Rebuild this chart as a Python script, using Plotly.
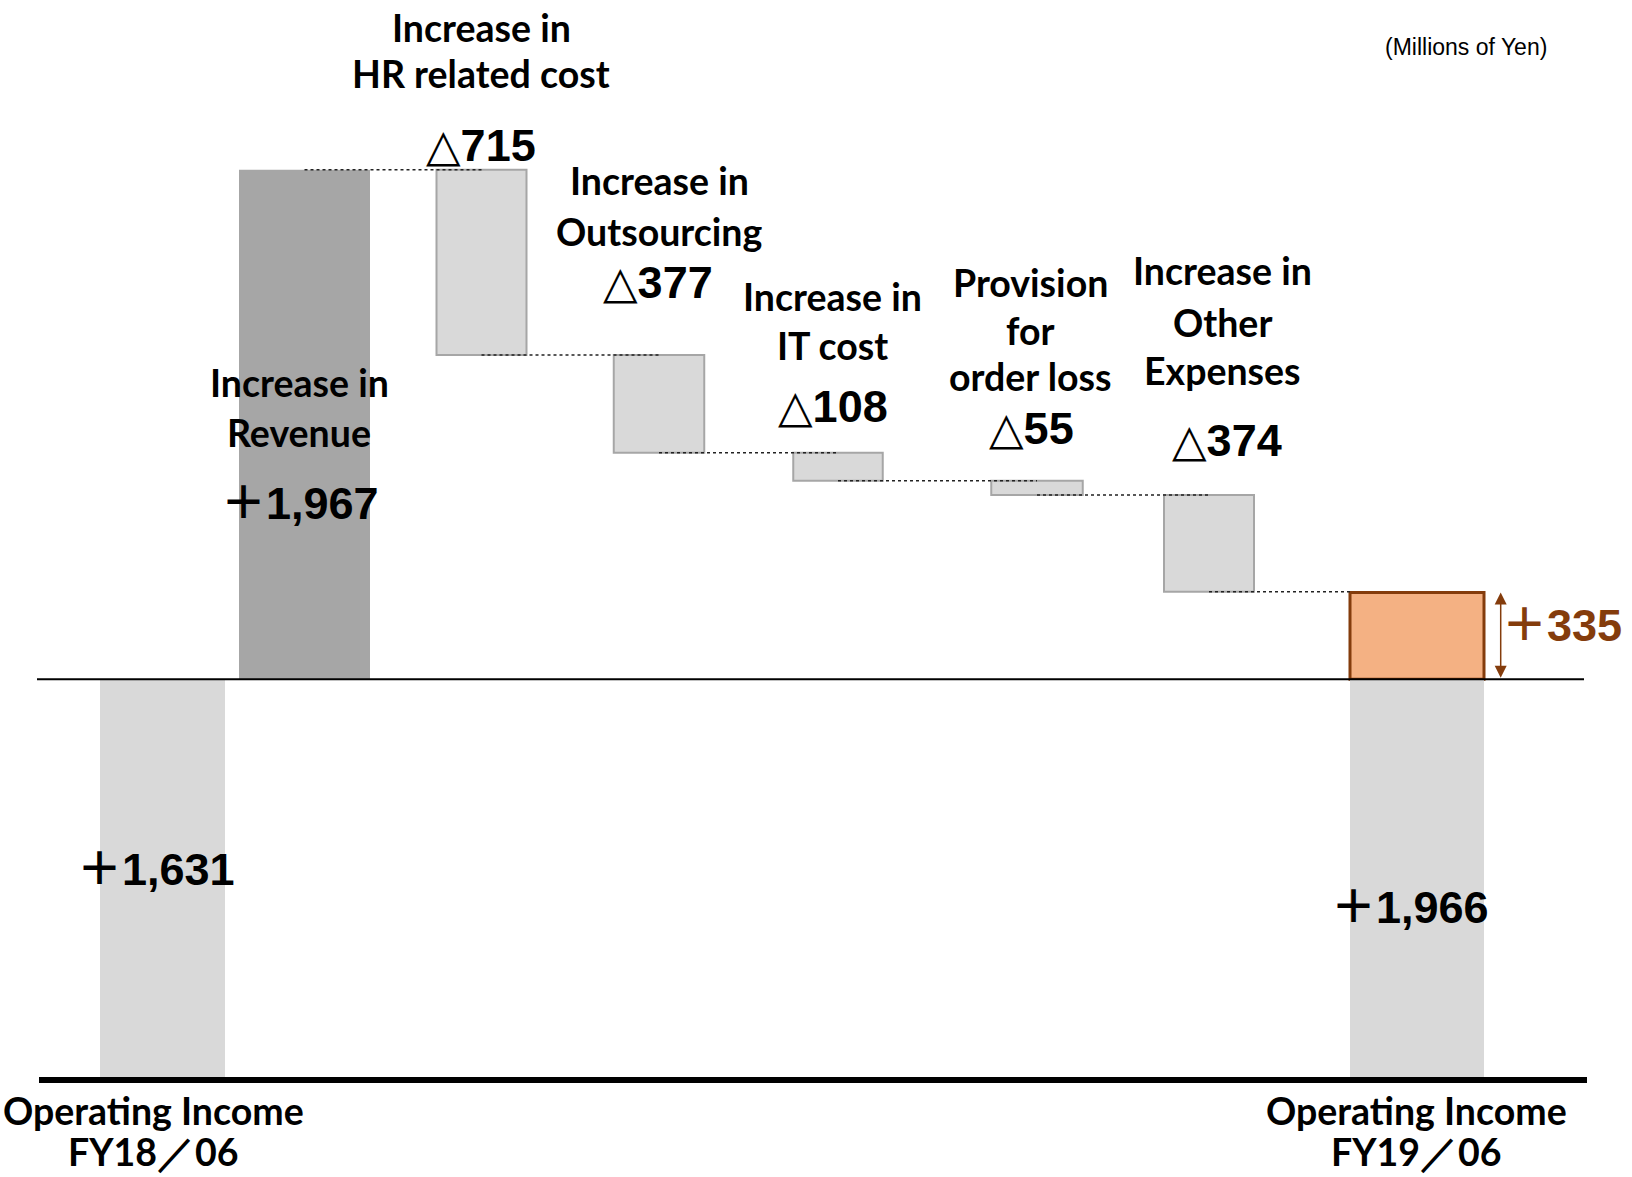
import plotly.graph_objects as go

# Operating income bridge FY18/06 -> FY19/06 (millions of yen)
prior_income = 1631
current_income = 1966
end_labels = [["Operating Income", "FY18／06"], ["Operating Income", "FY19／06"]]
step_labels = [
    ["Increase in", "Revenue"],
    ["Increase in", "HR related cost"],
    ["Increase in", "Outsourcing"],
    ["Increase in", "IT cost"],
    ["Provision", "for", "order loss"],
    ["Increase in", "Other", "Expenses"],
]
step_values = [1967, -715, -377, -108, -55, -374]
unit_note = "(Millions of Yen)"

# ---- canvas / layout constants (pixels) ----
W, H = 1632, 1177
slot_x = [162.5, 304.5, 481.5, 659, 838, 1037, 1209, 1417]
slot_w = [125, 131, 90, 90.5, 89.5, 91.5, 90, 134]
base_px = 679.3      # row of the prior-year level line
zero_px = 1080       # bottom rule
step_scale = 0.259   # px per million yen in the change section

step_label_x = [299, 481, 659, 832, 1030, 1222]
step_label_rows = [[383, 432.5], [27.5, 73], [180, 231.5], [296.5, 345],
                   [282, 330, 376.5], [270.5, 322, 371]]
value_x = [300, 480.5, 658, 833, 1031, 1226.5]
value_y = [503.5, 145.5, 282, 406, 429, 440]
end_value_pos = [(156, 869), (1410, 907)]
end_label_x = [153, 1416]
end_label_rows = [1110, 1151]
arrow_x = 1500.7

GRAY_LIGHT = "#D9D9D9"
GRAY_DARK = "#A6A6A6"
ORANGE = "#F4B183"
BROWN = "#843C0C"

LABEL_FONT = dict(family="Lato, Roboto, sans-serif", size=37.5, color="black", weight="bold")
NUM_FONT = dict(family="Liberation Sans, Arial, Noto Sans CJK JP, sans-serif",
                size=45, color="black", weight="bold")
TRIANGLE = "<span style=\"font-family:'DejaVu Sans'; font-weight:bold\">△</span>"


def py(px):
    return 1 - px / H


def fmt(v):
    return ("＋" if v > 0 else TRIANGLE) + f"{abs(v):,}"


# axis ranges: change section (y) and the base section (y2)
y_top = prior_income + base_px / step_scale
y_range = [y_top - H / step_scale, y_top]
base_scale = (zero_px - base_px) / prior_income
y2_top = zero_px / base_scale
y2_range = [y2_top - H / base_scale, y2_top]

# running levels of the bridge
levels = [prior_income]
for v in step_values:
    levels.append(levels[-1] + v)

fig = go.Figure()

# prior / current income bases (lower section)
fig.add_trace(go.Bar(
    x=[slot_x[0], slot_x[7]], y=[prior_income, min(prior_income, current_income)],
    base=[0, 0], width=[slot_w[0], slot_w[7]], yaxis="y2",
    marker=dict(color=GRAY_LIGHT, line=dict(width=0)), hoverinfo="skip", showlegend=False))

# change bars
bar_base = [min(levels[i], levels[i + 1]) for i in range(len(step_values))]
bar_h = [abs(v) for v in step_values]
fill = [GRAY_DARK if v > 0 else GRAY_LIGHT for v in step_values]
edge_w = [0 if v > 0 else 2 for v in step_values]
fig.add_trace(go.Bar(
    x=slot_x[1:7], y=bar_h, base=bar_base, width=slot_w[1:7], yaxis="y",
    marker=dict(color=fill, line=dict(color=GRAY_DARK, width=edge_w)),
    hoverinfo="skip", showlegend=False))

# year-on-year increase
fig.add_trace(go.Bar(
    x=[slot_x[7]], y=[current_income - prior_income], base=[prior_income],
    width=[slot_w[7]], yaxis="y",
    marker=dict(color=ORANGE, line=dict(color=BROWN, width=3)),
    hoverinfo="skip", showlegend=False))

# dotted connectors between consecutive bars
cx, cy = [], []
for i in range(len(step_values)):
    x0 = slot_x[i + 1]
    x1 = slot_x[i + 2] if i + 2 < 7 else slot_x[7] - slot_w[7] / 2
    cx += [x0, x1, None]
    cy += [levels[i + 1], levels[i + 1], None]
fig.add_trace(go.Scatter(x=cx, y=cy, mode="lines", yaxis="y",
                         line=dict(color="#222222", width=1.5, dash="dot"),
                         hoverinfo="skip", showlegend=False))

shapes = [
    dict(type="line", xref="x", yref="y", x0=37, x1=1584, y0=prior_income, y1=prior_income,
         line=dict(color="black", width=2)),
    dict(type="line", xref="x", yref="y2", x0=39, x1=1587, y0=0, y1=0,
         line=dict(color="black", width=6)),
]

ann = []
for i, rows in enumerate(step_label_rows):
    for text, yy in zip(step_labels[i], rows):
        ann.append(dict(text=text, x=step_label_x[i], xref="x", y=py(yy), yref="paper",
                        showarrow=False, xanchor="center", yanchor="middle", font=LABEL_FONT))
    ann.append(dict(text=fmt(step_values[i]), x=value_x[i], xref="x", y=py(value_y[i]), yref="paper",
                    showarrow=False, xanchor="center", yanchor="middle", font=NUM_FONT))

for j, val in enumerate([prior_income, current_income]):
    ex, ey = end_value_pos[j]
    ann.append(dict(text=fmt(val), x=ex, xref="x", y=py(ey), yref="paper",
                    showarrow=False, xanchor="center", yanchor="middle", font=NUM_FONT))
    for text, yy in zip(end_labels[j], end_label_rows):
        ann.append(dict(text=text, x=end_label_x[j], xref="x", y=py(yy), yref="paper",
                        showarrow=False, xanchor="center", yanchor="middle", font=LABEL_FONT))

# increase arrow and its value
ann.append(dict(text="", x=arrow_x, xref="x", y=current_income, yref="y",
                ax=arrow_x, axref="x", ay=prior_income, ayref="y",
                showarrow=True, arrowside="end+start", arrowhead=2, arrowsize=1.6,
                arrowwidth=1.5, arrowcolor=BROWN, standoff=0, startstandoff=0))
ann.append(dict(text=fmt(current_income - prior_income), x=1562, xref="x", y=py(625), yref="paper",
                showarrow=False, xanchor="center", yanchor="middle",
                font=dict(NUM_FONT, color=BROWN)))

ann.append(dict(text=unit_note, x=1466, xref="x", y=py(47), yref="paper",
                showarrow=False, xanchor="center", yanchor="middle",
                font=dict(family="Liberation Sans, Arial, sans-serif", size=23, color="black")))

fig.update_layout(
    width=W, height=H, margin=dict(l=0, r=0, t=0, b=0),
    paper_bgcolor="white", plot_bgcolor="white",
    barmode="overlay", bargap=0,
    xaxis=dict(range=[0, W], domain=[0, 1], visible=False, fixedrange=True),
    yaxis=dict(range=y_range, domain=[0, 1], visible=False, fixedrange=True),
    yaxis2=dict(range=y2_range, domain=[0, 1], overlaying="y", visible=False, fixedrange=True),
    shapes=shapes, annotations=ann, showlegend=False,
)

fig.write_html("out.html", config={"displayModeBar": False, "staticPlot": True},
               post_script="document.body.style.margin='0';")
